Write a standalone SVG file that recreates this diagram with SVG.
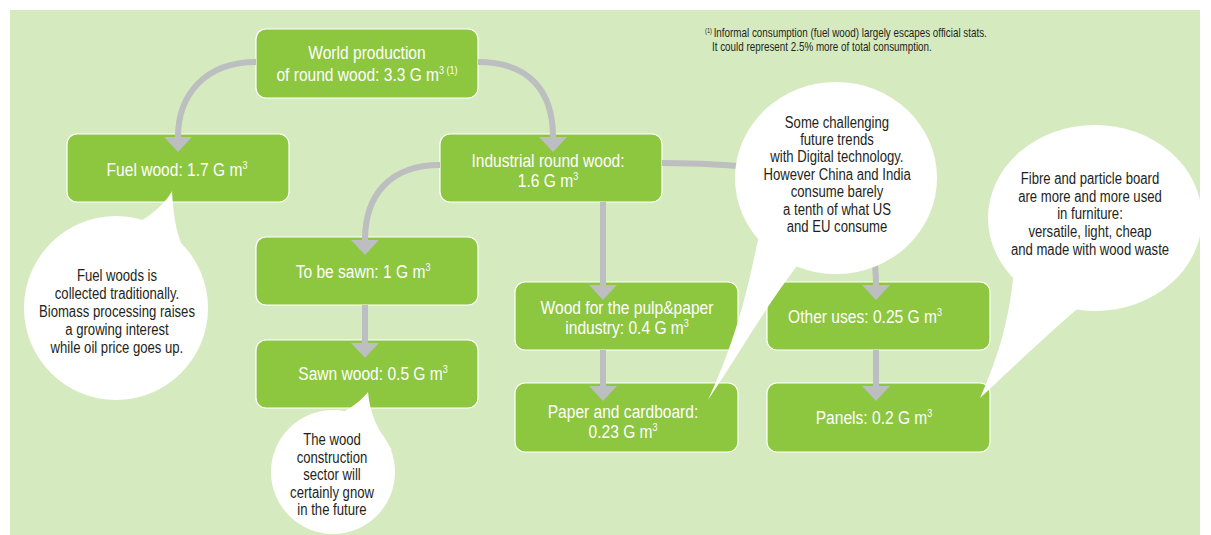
<svg xmlns="http://www.w3.org/2000/svg" width="1211" height="535" viewBox="0 0 1211 535">
<defs>
<style>
.node rect{fill:#8dc63f;stroke:#ffffff;stroke-width:1.2}
.node text{fill:#ffffff;font-family:"Liberation Sans Narrow","Liberation Sans",Arial,sans-serif;font-size:19px;text-anchor:middle;transform-box:fill-box;transform-origin:center;transform:scaleX(0.82)}
.sup{font-size:11px}
.conn path{fill:none;stroke:#bcbec0;stroke-width:6}
.bubble path,.bubble circle,.bubble ellipse{fill:#ffffff}
.bubble text{fill:#231f20;font-family:"Liberation Sans Narrow","Liberation Sans",Arial,sans-serif;font-size:16px;text-anchor:middle;transform-box:fill-box;transform-origin:center;transform:scaleX(0.82)}
.note{fill:#231f20;font-family:"Liberation Sans Narrow","Liberation Sans",Arial,sans-serif;font-size:12px;transform-box:fill-box;transform-origin:left center;transform:scaleX(0.82)}
</style>
<marker id="arr" viewBox="0 0 15 28" markerWidth="15" markerHeight="28" refX="0" refY="14" orient="auto" markerUnits="userSpaceOnUse">
<path d="M0,0 L15,14 L0,28 Z" fill="#bcbec0"/>
</marker>
</defs>
<rect x="0" y="0" width="1211" height="535" fill="#ffffff"/>
<rect x="10" y="10" width="1190" height="525" fill="#d6eac0"/>

<g id="n-world" class="node"><rect x="256" y="29" width="222" height="69" rx="10"/><text x="367" y="59">World production</text><text x="367" y="81">of round wood: 3.3 G m<tspan class="sup" dy="-7">3</tspan><tspan class="sup" dx="3">(1)</tspan></text></g>
<g id="n-fuel" class="node"><rect x="67" y="134" width="222" height="68" rx="10"/><text x="177" y="176">Fuel wood: 1.7 G m<tspan class="sup" dy="-7">3</tspan></text></g>
<g id="n-industrial" class="node"><rect x="440" y="134" width="222" height="68" rx="10"/><text x="548" y="167">Industrial round wood:</text><text x="548" y="187">1.6 G m<tspan class="sup" dy="-7">3</tspan></text></g>
<g id="n-tobesawn" class="node"><rect x="256" y="237" width="222" height="68" rx="10"/><text x="363" y="278">To be sawn: 1 G m<tspan class="sup" dy="-7">3</tspan></text></g>
<g id="n-sawn" class="node"><rect x="256" y="340" width="222" height="68" rx="10"/><text x="373" y="380">Sawn wood: 0.5 G m<tspan class="sup" dy="-7">3</tspan></text></g>
<g id="n-pulp" class="node"><rect x="515" y="282" width="223" height="68" rx="10"/><text x="627" y="314">Wood for the pulp&amp;paper</text><text x="627" y="334">industry: 0.4 G m<tspan class="sup" dy="-7">3</tspan></text></g>
<g id="n-paper" class="node"><rect x="515" y="383" width="223" height="69" rx="10"/><text x="623" y="418">Paper and cardboard:</text><text x="623" y="438">0.23 G m<tspan class="sup" dy="-7">3</tspan></text></g>
<g id="n-other" class="node"><rect x="767" y="282" width="223" height="68" rx="10"/><text x="865" y="323">Other uses: 0.25 G m<tspan class="sup" dy="-7">3</tspan></text></g>
<g id="n-panels" class="node"><rect x="767" y="383" width="223" height="69" rx="10"/><text x="874" y="424">Panels: 0.2 G m<tspan class="sup" dy="-7">3</tspan></text></g>

<g id="connectors" class="conn">
<path d="M256,62 C205,62 178,95 178,137" marker-end="url(#arr)"/>
<path d="M478,62 C530,62 553,92 553,137" marker-end="url(#arr)"/>
<path d="M440,165 C390,165 365,195 365,240" marker-end="url(#arr)"/>
<path d="M603,202 L603,285" marker-end="url(#arr)"/>
<path d="M662,163 C800,164 876,180 876,285" marker-end="url(#arr)"/>
<path d="M365,305 L365,343" marker-end="url(#arr)"/>
<path d="M603,350 L603,386" marker-end="url(#arr)"/>
<path d="M876,350 L876,386" marker-end="url(#arr)"/>
</g>

<g id="b-fuel" class="bubble">
<circle cx="116" cy="308" r="92"/>
<path d="M95,240 C135,228 160,212 172,191 C174,225 178,245 196,268 Z"/>
<text x="117" y="281">Fuel woods is</text>
<text x="117" y="299">collected traditionally.</text>
<text x="117" y="317">Biomass processing raises</text>
<text x="117" y="335">a growing interest</text>
<text x="117" y="353">while oil price goes up.</text>
</g>
<g id="b-sawn" class="bubble">
<circle cx="333" cy="472" r="62"/>
<path d="M300,430 C335,418 355,408 368,392 C370,415 378,430 392,450 Z"/>
<text x="332" y="445">The wood</text>
<text x="332" y="463">construction</text>
<text x="332" y="480">sector will</text>
<text x="332" y="498">certainly gnow</text>
<text x="332" y="515">in the future</text>
</g>
<g id="b-industry" class="bubble">
<ellipse cx="836" cy="178" rx="101" ry="96"/>
<path d="M760,232 C752,262 745,320 708,400 C740,352 770,300 800,262 Z"/>
<text x="837" y="128">Some challenging</text>
<text x="837" y="145">future trends</text>
<text x="837" y="162">with Digital technology.</text>
<text x="837" y="180">However China and India</text>
<text x="837" y="197">consume barely</text>
<text x="837" y="215">a tenth of what US</text>
<text x="837" y="232">and EU consume</text>
</g>
<g id="b-panels" class="bubble">
<ellipse cx="1095" cy="218" rx="107" ry="93"/>
<path d="M1014,270 C1011,300 1006,340 980,398 C1010,370 1050,332 1082,305 Z"/>
<text x="1090" y="184">Fibre and particle board</text>
<text x="1090" y="202">are more and more used</text>
<text x="1090" y="219">in furniture:</text>
<text x="1090" y="237">versatile, light, cheap</text>
<text x="1090" y="255">and made with wood waste</text>
</g>

<g id="footnote">
<text class="note" x="705" y="37"><tspan font-size="7" dy="-4">(1)</tspan><tspan dx="2" dy="4">Informal consumption (fuel wood) largely escapes official stats.</tspan></text>
<text class="note" x="712" y="51">It could represent 2.5% more of total consumption.</text>
</g>
</svg>
